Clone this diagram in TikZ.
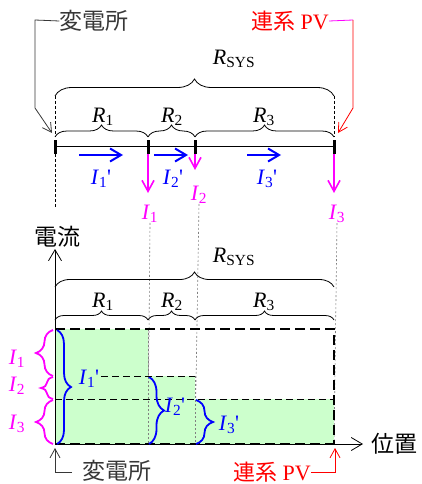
\documentclass[tikz,border=0pt]{standalone}
\usepackage{fontspec}
\setmainfont{Liberation Serif}
\newfontfamily\jpfont{Noto Sans CJK JP}
\usetikzlibrary{arrows.meta,decorations.pathreplacing}
\definecolor{lineMagenta}{RGB}{255,0,255}
\definecolor{lineBlue}{RGB}{0,0,255}
\definecolor{lineRed}{RGB}{255,0,0}
\definecolor{fillGreen}{RGB}{204,255,204}
\definecolor{textGray}{RGB}{55,55,55}
\newcommand{\Res}[1]{\textit{R}\textsubscript{#1}}
\newcommand{\Cur}[2]{\textit{I}\textsubscript{#1}#2}

\begin{document}
\begin{tikzpicture}[x=1pt,y=-1pt,
  wire/.style={line width=0.8pt},
  tap/.style={line width=3pt},
  guide/.style={line width=0.6pt, dash pattern=on 3pt off 2pt},
  dotguide/.style={gray, line width=0.6pt, dash pattern=on 2pt off 2pt},
  brc/.style={decorate, decoration={brace, amplitude=#1}, line width=0.8pt},
  cbrc/.style={decorate, decoration={brace, amplitude=#1}, line width=1.8pt},
  flow/.style={lineBlue, line width=2pt, -{Straight Barb[length=11pt,width=13pt]}},
  drop/.style={lineMagenta, line width=1.6pt, -{Straight Barb[length=11pt,width=12pt]}},
  lead/.style={line width=0.8pt, -{Straight Barb[length=9pt,width=10pt]}},
  axis/.style={line width=0.8pt, -{Straight Barb[length=11pt,width=13pt]}},
  bigdash/.style={line width=1.8pt, dash pattern=on 10pt off 5pt},
  smalldash/.style={line width=1pt, dash pattern=on 7pt off 4pt},
  lbl/.style={inner sep=0pt, font=\fontsize{22}{25}\selectfont},
  jlbl/.style={inner sep=0pt, font=\fontsize{23}{26}\selectfont\jpfont}]
  \useasboundingbox (0,0) rectangle (422,484);

  % feeder
  \coordinate (t0) at (55,146);
  \coordinate (t1) at (148,146);
  \coordinate (t2) at (195,146);
  \coordinate (t3) at (334,146);
  \draw[wire] (t0) -- (t3);
  \foreach \p in {t0,t1,t2,t3}
    \draw[tap] ([yshift=6pt]\p) -- ([yshift=-8pt]\p);

  \draw[brc=12] (55,137) -- (148,137);
  \draw[brc=12] (148,137) -- (195,137);
  \draw[brc=12] (195,137) -- (334,137);
  \draw[brc=17] (55,96) -- (334,96);
  \draw[guide] (55,96) -- (55,137);
  \draw[guide] (334,96) -- (334,137);
  \node[lbl] (r1top) at (103,117) {\Res{1}};
  \node[lbl] (r2top) at (172,117) {\Res{2}};
  \node[lbl] (r3top) at (264,117) {\Res{3}};
  \node[lbl] (rsystop) at (234,59) {\Res{SYS}};

  \draw[flow] (79,155) -- (123,155);
  \draw[flow] (154,155) -- (188,155);
  \draw[flow] (247,155) -- (281,155);
  \node[lbl,text=lineBlue] (i1f) at (101,179) {\Cur{1}{\textquotesingle}};
  \node[lbl,text=lineBlue] (i2f) at (173,179) {\Cur{2}{\textquotesingle}};
  \node[lbl,text=lineBlue] (i3f) at (267,179) {\Cur{3}{\textquotesingle}};

  \draw[drop] ([yshift=-8pt]t1) -- (148,193);
  \draw[drop] ([yshift=-8pt]t2) -- (195,170);
  \draw[drop] ([yshift=-8pt]t3) -- (334,193);
  \node[lbl,text=lineMagenta] (i1) at (150,214) {\Cur{1}{}};
  \node[lbl,text=lineMagenta] (i2) at (199,195) {\Cur{2}{}};
  \node[lbl,text=lineMagenta] (i3) at (337,214) {\Cur{3}{}};

  % leaders
  \node[jlbl,text=textGray] (subst) at (94,21) {変電所};
  \draw[lead,textGray] (subst.west) -- (35,20) -- (35,108) -- (52,133);
  \node[lbl,text=lineRed] (pv) at (290,21) {{\jpfont 連系} PV};
  \draw[line width=0.8pt,lineMagenta] (pv.east) -- (353,20);
  \draw[lead,lineRed] (353,20) -- (353,108) -- (338,133);

  % guides to the chart
  \draw[guide] ([yshift=-8pt]t0) -- (55,207);
  \draw[dotguide] (i1.south) -- (148,444);
  \draw[dotguide] (i2.south) -- (195,444);
  \draw[dotguide] (i3.south) -- (334,444);

  % chart
  \fill[fillGreen] (55,329) rectangle (148,444);
  \fill[fillGreen] (148,376) rectangle (195,444);
  \fill[fillGreen] (195,399) rectangle (334,444);
  \draw[dotguide] (148,329) -- (148,444);
  \draw[dotguide] (195,376) -- (195,444);
  \draw[bigdash] (55,329) -- (334,329) -- (334,444);
  \draw[bigdash] (55,444) -- (334,444);
  \draw[smalldash] (55,399) -- (334,399);

  \coordinate (o) at (55,444);
  \draw[axis] (o) -- (55,249);
  \draw[axis] (o) -- (363,444);
  \node[jlbl] (ylab) at (57,237) {電流};
  \node[jlbl] (xlab) at (394,444) {位置};

  \draw[brc=9] (55,320) -- (148,320);
  \draw[brc=9] (148,320) -- (195,320);
  \draw[brc=9] (195,320) -- (334,320);
  \draw[brc=15] (55,287) -- (334,287);
  \node[lbl] (r1) at (103,302) {\Res{1}};
  \node[lbl] (r2) at (172,302) {\Res{2}};
  \node[lbl] (r3) at (264,302) {\Res{3}};
  \node[lbl] (rsys) at (234,257) {\Res{SYS}};

  \draw[cbrc=17,lineMagenta] (53,376) -- (53,330);
  \draw[cbrc=12,lineMagenta] (53,399) -- (53,377);
  \draw[cbrc=17,lineMagenta] (53,444) -- (53,400);
  \node[lbl,text=lineMagenta] (b1) at (17,359) {\Cur{1}{}};
  \node[lbl,text=lineMagenta] (b2) at (17,386) {\Cur{2}{}};
  \node[lbl,text=lineMagenta] (b3) at (17,424) {\Cur{3}{}};

  \draw[cbrc=14,lineBlue] (57,330) -- (57,444);
  \draw[cbrc=15,lineBlue] (149,377) -- (149,444);
  \draw[cbrc=17,lineBlue] (196,400) -- (196,444);
  \node[lbl,text=lineBlue] (c1) at (89,379) {\Cur{1}{\textquotesingle}};
  \node[lbl,text=lineBlue] (c2) at (175,407) {\Cur{2}{\textquotesingle}};
  \node[lbl,text=lineBlue] (c3) at (229,425) {\Cur{3}{\textquotesingle}};
  \draw[smalldash] ([xshift=2pt]c1.east |- 0,376) -- (195,376);

  % bottom leaders
  \node[jlbl,text=textGray] (substb) at (117,471) {変電所};
  \draw[lead,textGray] (72,472) -- (55,472) -- (55,448);
  \node[lbl,text=lineRed] (pvb) at (272,472) {{\jpfont 連系} PV};
  \draw[lead,lineRed] (pvb.east) -- (335,472) -- (335,448);
\end{tikzpicture}
\end{document}
